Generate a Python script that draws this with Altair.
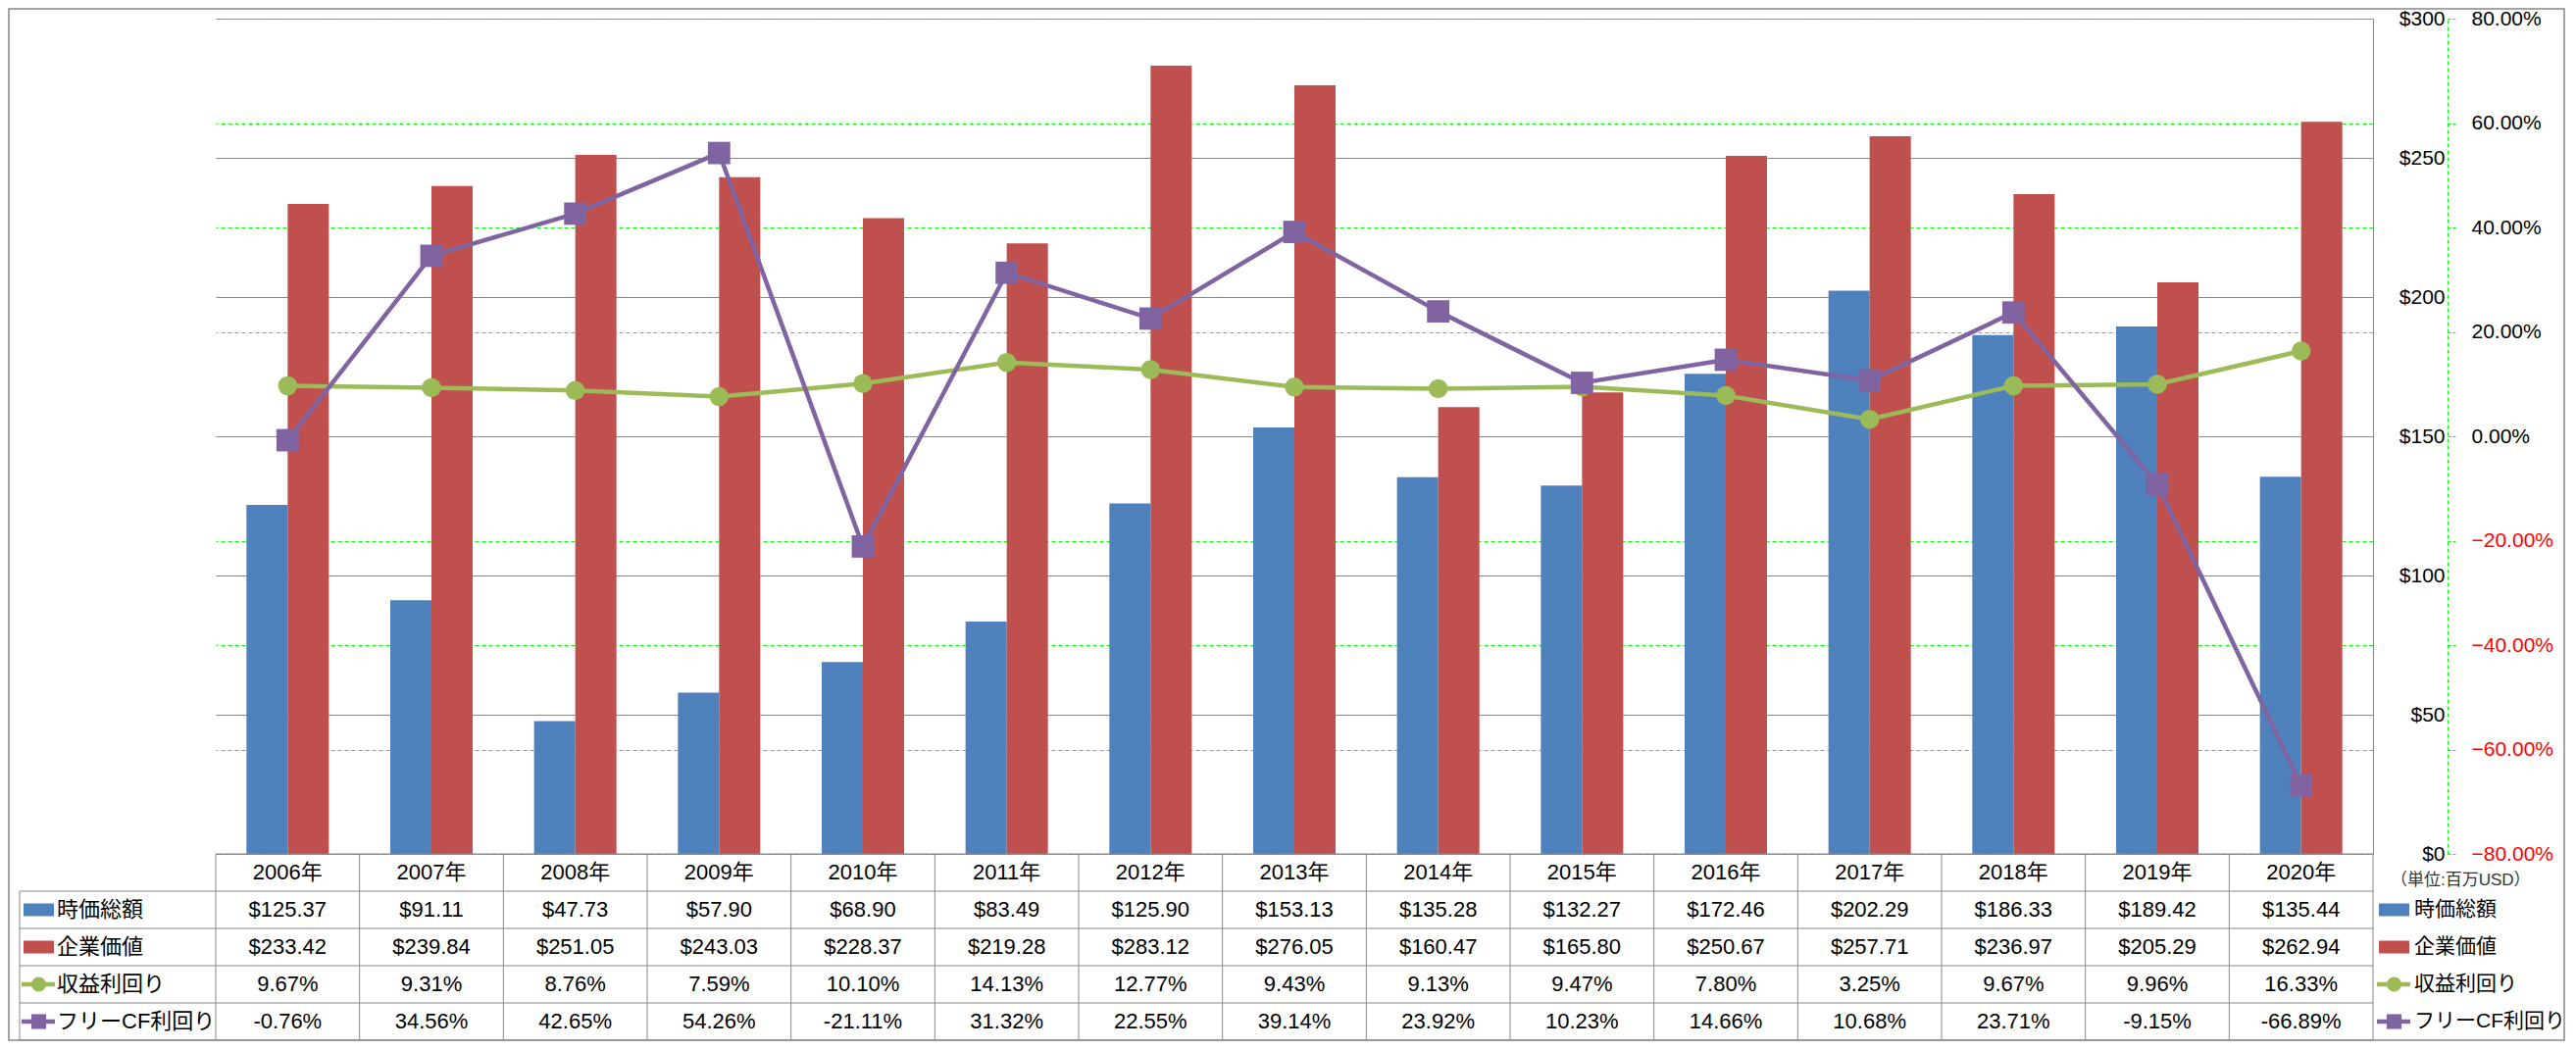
import altair as alt
import pandas as pd

# ---------------- data ----------------
years = ["2006年", "2007年", "2008年", "2009年", "2010年", "2011年", "2012年", "2013年",
         "2014年", "2015年", "2016年", "2017年", "2018年", "2019年", "2020年"]
market_cap = [125.37, 91.11, 47.73, 57.90, 68.90, 83.49, 125.90, 153.13,
              135.28, 132.27, 172.46, 202.29, 186.33, 189.42, 135.44]
enterprise_value = [233.42, 239.84, 251.05, 243.03, 228.37, 219.28, 283.12, 276.05,
                    160.47, 165.80, 250.67, 257.71, 236.97, 205.29, 262.94]
earnings_yield = [9.67, 9.31, 8.76, 7.59, 10.10, 14.13, 12.77, 9.43,
                  9.13, 9.47, 7.80, 3.25, 9.67, 9.96, 16.33]
fcf_yield = [-0.76, 34.56, 42.65, 54.26, -21.11, 31.32, 22.55, 39.14,
             23.92, 10.23, 14.66, 10.68, 23.71, -9.15, -66.89]
series = ["時価総額", "企業価値", "収益利回り", "フリーCF利回り"]
colors = ["#4F81BD", "#C0504D", "#9BBB59", "#8064A2"]
usd_ticks = [0, 50, 100, 150, 200, 250, 300]
pct_ticks = [-0.8, -0.6, -0.4, -0.2, 0.0, 0.2, 0.4, 0.6, 0.8]
unit_label = "（単位:百万USD）"

# ---------------- layout ----------------
FONT = "Liberation Sans, Noto Sans CJK JP, sans-serif"
W, H, TH = 2200, 852, 190
LEFT = 212
GRAY = "#868686"
GREEN_GRID = "#00FF00"

bar_df = pd.DataFrame({
    "year": years * 2,
    "series": [series[0]] * len(years) + [series[1]] * len(years),
    "value": market_cap + enterprise_value,
})
ey_df = pd.DataFrame({"year": years, "pct": [v / 100 for v in earnings_yield]})
fy_df = pd.DataFrame({"year": years, "pct": [v / 100 for v in fcf_yield]})

cscale = alt.Scale(domain=series, range=colors)
xscale = alt.Scale(domain=years, paddingInner=0.4273, paddingOuter=0.2136)

usd_axis = alt.Axis(orient="right", values=usd_ticks, format="$.0f", grid=True,
                    gridColor=GRAY, gridWidth=1, domainColor=GRAY, domainWidth=1,
                    ticks=False, tickSize=0, labelAlign="right", labelPadding=73,
                    labelFontSize=21, labelColor="black", labelFont=FONT, title=None)
pct_axis = alt.Axis(orient="right", offset=76, values=pct_ticks, format=".2%", grid=True,
                    gridColor=GREEN_GRID, gridDash=[4, 3], gridWidth=1,
                    domainColor=GREEN_GRID, domainDash=[4, 3], domainWidth=1,
                    tickColor=GREEN_GRID, tickSize=8, tickDash=[3, 2],
                    labelPadding=16, labelFontSize=21, labelFont=FONT,
                    labelColor={"condition": {"test": "datum.value < 0", "value": "#FF0000"},
                                "value": "black"},
                    title=None)

xenc = alt.X("year:N", scale=xscale, sort=years, axis=None)

bars = alt.Chart(bar_df).mark_bar().encode(
    x=xenc,
    xOffset=alt.XOffset("series:N", sort=series[:2],
                        scale=alt.Scale(paddingInner=0, paddingOuter=0)),
    y=alt.Y("value:Q", scale=alt.Scale(domain=[0, 300], nice=False, zero=True), axis=usd_axis),
    color=alt.Color("series:N", scale=cscale, legend=None),
)

pct_y = alt.Y("pct:Q", scale=alt.Scale(domain=[-0.8, 0.8], nice=False, zero=False), axis=pct_axis)
ey_line = alt.Chart(ey_df).mark_line(color=colors[2], strokeWidth=4.5).encode(x=xenc, y=pct_y)
ey_pts = alt.Chart(ey_df).mark_point(color=colors[2], filled=True, opacity=1, size=380,
                                     shape="circle").encode(x=xenc, y=pct_y)
fy_line = alt.Chart(fy_df).mark_line(color=colors[3], strokeWidth=4.5).encode(x=xenc, y=pct_y)
fy_pts = alt.Chart(fy_df).mark_point(color=colors[3], filled=True, opacity=1, size=520,
                                     shape="square").encode(x=xenc, y=pct_y)
lines = alt.layer(ey_line, ey_pts, fy_line, fy_pts)

border = alt.Chart(pd.DataFrame({"k": [0]})).mark_rect(
    fillOpacity=0, stroke=GRAY, strokeWidth=1.5).encode(
    x=alt.value(-LEFT + 1), x2=alt.value(2395), y=alt.value(-10), y2=alt.value(H + TH))

top = alt.layer(bars, lines, border).resolve_scale(y="independent").properties(
    width=W, height=H, view=alt.ViewBackground(stroke=None))

# ---------------- data table ----------------
tx = alt.Scale(domain=years, paddingInner=0, paddingOuter=0)
ty = alt.Scale(domain=[0, 5], reverse=True, nice=False, zero=False)

rows_text = [years,
             [f"${v:.2f}" for v in market_cap],
             [f"${v:.2f}" for v in enterprise_value],
             [f"{v:.2f}%" for v in earnings_yield],
             [f"{v:.2f}%" for v in fcf_yield]]
cells = pd.DataFrame({
    "year": [y for r in rows_text for y in years],
    "yc": [i + 0.5 for i, r in enumerate(rows_text) for _ in years],
    "label": [t for r in rows_text for t in r],
})
tyenc = alt.Y("yc:Q", scale=ty, axis=None)
txenc = alt.X("year:N", scale=tx, sort=years, axis=None)

cell_text = alt.Chart(cells).mark_text(fontSize=22, font=FONT, color="black").encode(
    x=txenc, y=tyenc, text="label:N")

vlines = alt.Chart(pd.DataFrame({"year": years})).mark_rule(color=GRAY, strokeWidth=1).encode(
    x=alt.X("year:N", scale=tx, sort=years, axis=None, bandPosition=0),
    y=alt.value(0), y2=alt.value(TH))
right_edge = alt.Chart(pd.DataFrame({"k": [0]})).mark_rule(color=GRAY, strokeWidth=1).encode(
    x=alt.value(W), y=alt.value(0), y2=alt.value(TH))
top_line = alt.Chart(pd.DataFrame({"b": [0]})).mark_rule(color=GRAY, strokeWidth=1).encode(
    y=alt.Y("b:Q", scale=ty, axis=None), x=alt.value(0), x2=alt.value(W))
hlines = alt.Chart(pd.DataFrame({"b": [1, 2, 3, 4, 5]})).mark_rule(color=GRAY, strokeWidth=1).encode(
    y=alt.Y("b:Q", scale=ty, axis=None), x=alt.value(-200), x2=alt.value(W))
left_edge = alt.Chart(pd.DataFrame({"b1": [1], "b2": [5]})).mark_rule(color=GRAY, strokeWidth=1).encode(
    y=alt.Y("b1:Q", scale=ty, axis=None), y2="b2:Q", x=alt.value(-200))

leg = pd.DataFrame({"series": series, "yc": [1.5, 2.5, 3.5, 4.5]})
bar_leg = leg.iloc[:2]
line_leg = leg.iloc[2:]
ccol = alt.Color("series:N", scale=cscale, legend=None)
shp = alt.Shape("series:N", scale=alt.Scale(domain=series[2:], range=["circle", "square"]), legend=None)


def symbols(x0, x1, tx0, fsize):
    sw = alt.Chart(bar_leg).mark_rule(strokeWidth=13, strokeCap="butt").encode(
        x=alt.value(x0), x2=alt.value(x1), y=tyenc, color=ccol)
    ln = alt.Chart(line_leg).mark_rule(strokeWidth=4.5).encode(
        x=alt.value(x0 - 2), x2=alt.value(x1 + 1), y=tyenc, color=ccol)
    pt = alt.Chart(line_leg).mark_point(filled=True, opacity=1, size=230).encode(
        x=alt.value((x0 + x1) / 2), y=tyenc, color=ccol, shape=shp)
    tx_ = alt.Chart(leg).mark_text(align="left", fontSize=fsize, font=FONT, color="black").encode(
        x=alt.value(tx0), y=tyenc, text="series:N")
    return [sw, ln, pt, tx_]


unit = alt.Chart(pd.DataFrame({"t": [unit_label], "yc": [0.7]})).mark_text(
    align="left", fontSize=17, font=FONT, color="#333333").encode(
    x=alt.value(W + 18), y=tyenc, text="t:N")

table = alt.layer(
    vlines, right_edge, top_line, hlines, left_edge, cell_text, unit,
    *symbols(-196, -165, -162, 22), *symbols(W + 6, W + 37, W + 42, 21)
).properties(width=W, height=TH, view=alt.ViewBackground(stroke=None))

chart = alt.vconcat(top, table, spacing=0, bounds="flush").resolve_scale(
    x="independent", y="independent", color="independent", shape="independent"
).properties(padding=0).configure(font=FONT).configure_view(stroke=None)

chart.save("out.html", embed_options={"renderer": "svg", "actions": False})
